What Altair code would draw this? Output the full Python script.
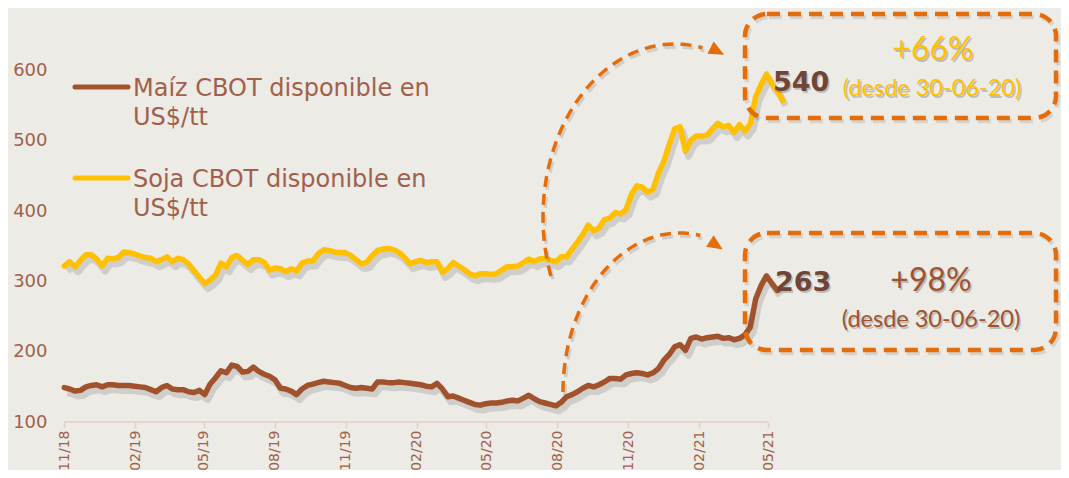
import altair as alt
import pandas as pd
import numpy as np

# ---------------- data (weekly from 2018-11-01) ----------------
START = "2018-11-01"
soja = [322, 328, 321, 330, 338, 338, 332, 322, 333, 332, 334, 342, 341, 339, 336, 334, 333, 328, 331, 335,
        328, 333, 331, 325, 315, 306, 297, 302, 309, 326, 321, 334, 337, 330, 324, 331, 331, 327, 316, 319,
        318, 314, 318, 315, 326, 329, 329, 339, 345, 344, 342, 341, 341, 337, 331, 325, 327, 337, 344, 346,
        347, 345, 341, 334, 325, 328, 330, 327, 328, 328, 313, 318, 327, 322, 317, 311, 308, 311, 311, 310,
        311, 316, 321, 321, 322, 327, 332, 328, 332, 333, 330, 328, 335, 335, 346, 356, 367, 380, 372, 376,
        388, 390, 398, 396, 402, 424, 436, 434, 427, 431, 454, 471, 495, 517, 520, 485, 501, 507, 507, 508,
        517, 525, 520, 522, 512, 523, 514, 524, 563, 580, 595, 581, 572, 557]
maiz = [149, 147, 144, 145, 150, 152, 153, 150, 153, 153, 152, 152, 152, 151, 150, 149, 146, 143, 149, 152,
        147, 146, 146, 143, 142, 145, 139, 154, 163, 173, 170, 181, 179, 171, 172, 178, 172, 168, 165, 160,
        148, 147, 144, 139, 147, 152, 154, 156, 158, 157, 156, 155, 152, 149, 148, 149, 148, 147, 157, 157,
        156, 156, 157, 156, 155, 154, 153, 151, 150, 155, 147, 136, 137, 134, 131, 128, 125, 124, 126, 127,
        127, 128, 130, 131, 130, 134, 138, 133, 129, 127, 125, 123, 128, 136, 139, 143, 148, 152, 150, 153,
        157, 162, 162, 161, 167, 169, 170, 169, 167, 170, 176, 188, 196, 207, 210, 202, 219, 221, 218, 220,
        221, 222, 219, 220, 217, 219, 224, 235, 275, 294, 308, 297, 287]
series_names = ["Maíz CBOT disponible en US$/tt", "Soja CBOT disponible en US$/tt"]
y_ticks = [100, 200, 300, 400, 500, 600]
x_ticks = ["2018-11-01", "2019-02-01", "2019-05-01", "2019-08-01", "2019-11-01", "2020-02-01",
           "2020-05-01", "2020-08-01", "2020-11-01", "2021-02-01", "2021-05-01"]
last_soja, last_maiz = "540", "263"
pct_soja, pct_maiz = "+66%", "+98%"
desde = "(desde 30-06-20)"

# ---------------- styling ----------------
BG = "#EDEBE6"
MAIZ = "#A0522D"
SOJA = "#FFC000"
ORANGE = "#E46C0A"
LABEL = "#A0604A"
DARK = "#6F4536"
AXIS = "#E6CCC6"
FONT = "DejaVu Sans"
OX, OY = 62, 8  # plot origin on the page
W, H = 723, 414
X0, X1 = pd.Timestamp("2018-10-29"), pd.Timestamp("2021-05-23")
Y0, Y1 = 100, 689
SPAN = (X1 - X0).days
DAYS_PER_PX = SPAN / W
UNITS_PER_PX = (Y1 - Y0) / H


def dt(t):
    t = pd.Timestamp(t)
    return alt.DateTime(year=t.year, month=t.month, date=t.day)


frames = []
for name, vals in zip(series_names, [maiz, soja]):
    frames.append(pd.DataFrame({"date": pd.date_range(START, periods=len(vals), freq="7D"),
                                "value": vals, "serie": name}))
df = pd.concat(frames, ignore_index=True)

# soft drop shadow: the same series shifted 3px right / 5px down
df_sh = df.copy()
df_sh["date"] = df_sh["date"] + pd.Timedelta(days=3 * DAYS_PER_PX)
df_sh["value"] = df_sh["value"] - 5 * UNITS_PER_PX

xscale = alt.Scale(domain=[dt(X0), dt(X1)])
yscale = alt.Scale(domain=[Y0, Y1], nice=False, zero=False)

x_axis = alt.Axis(values=[dt(s) for s in x_ticks], format="%m/%y", labelAngle=270,
                  domain=False, grid=False, tickColor=AXIS, tickSize=6, tickWidth=1.5,
                  labelColor=LABEL, labelFont=FONT, labelFontSize=14, labelPadding=2,
                  labelOverlap=False)
y_axis = alt.Axis(values=y_ticks, domain=False, grid=False, ticks=False,
                  labelColor=LABEL, labelFont=FONT, labelFontSize=18, labelPadding=15)

one = pd.DataFrame({"k": [0]})

shadow = alt.Chart(df_sh).mark_line(strokeWidth=7, color="#000000", opacity=0.12,
                                    strokeJoin="round").encode(
    x=alt.X("date:T", scale=xscale), y=alt.Y("value:Q", scale=yscale), detail="serie:N")

lines = alt.Chart(df).mark_line(strokeWidth=5.5, strokeJoin="round", strokeCap="round").encode(
    x=alt.X("date:T", scale=xscale, axis=x_axis, title=None),
    y=alt.Y("value:Q", scale=yscale, axis=y_axis, title=None),
    color=alt.Color("serie:N", scale=alt.Scale(domain=series_names, range=[MAIZ, SOJA]), legend=None))

axis_df = pd.DataFrame({"d1": [pd.Timestamp(x_ticks[0])], "d2": [pd.Timestamp(x_ticks[-1])], "v": [y_ticks[0]]})
axis_rule = alt.Chart(axis_df).mark_rule(color=AXIS, strokeWidth=1.5).encode(
    x=alt.X("d1:T", scale=xscale), x2="d2:T", y=alt.Y("v:Q", scale=yscale))

# ---------------- decorations ----------------
def arc_frame(dx, dy):
    rows = []
    for name, cx, cy, a, b, t0, t1 in [("a1", 675, 217, 132, 173, 200, 78),
                                       ("a2", 680, 392, 117, 159, 180, 80)]:
        for i, t in enumerate(np.radians(np.linspace(t0, t1, 60))):
            px = cx + a * np.cos(t) - OX + dx
            py = cy - b * np.sin(t) - OY + dy
            rows.append({"arc": name, "i": i,
                         "date": X0 + pd.Timedelta(days=px * DAYS_PER_PX),
                         "value": Y1 - py * UNITS_PER_PX})
    return pd.DataFrame(rows)


arc_shadow = alt.Chart(arc_frame(2, 3)).mark_line(strokeDash=[11, 7], strokeWidth=3.5, color="#000000",
                                                  opacity=0.12).encode(
    x=alt.X("date:T", scale=xscale), y=alt.Y("value:Q", scale=yscale), detail="arc:N", order="i:Q")
arc_lines = alt.Chart(arc_frame(0, 0)).mark_line(strokeDash=[11, 7], strokeWidth=3.5, color=ORANGE).encode(
    x=alt.X("date:T", scale=xscale), y=alt.Y("value:Q", scale=yscale), detail="arc:N", order="i:Q")


def arrow_path(deg):
    """triangle path (unit box) pointing along deg, clockwise from +x on screen"""
    th = np.radians(deg)
    pts = [(1.0, 0.0), (-0.9, -0.85), (-0.9, 0.85)]
    rot = [(x * np.cos(th) - y * np.sin(th), x * np.sin(th) + y * np.cos(th)) for x, y in pts]
    return "M" + "L".join(f"{x:.3f},{y:.3f}" for x, y in rot) + "Z"


heads = [alt.Chart(one).mark_point(shape=arrow_path(ang), filled=True, size=260,
                                   color=ORANGE, opacity=1).encode(x=alt.value(hx - OX), y=alt.value(hy - OY))
         for hx, hy, ang in [(717, 51, 27), (716, 245, 33)]]


def box(x1, y1, x2, y2):
    sh = alt.Chart(one).mark_rect(fill="transparent", stroke="#000000", strokeOpacity=0.10, strokeWidth=4.5,
                                  strokeDash=[13, 8], cornerRadius=22).encode(
        x=alt.value(x1 - OX + 2), x2=alt.value(x2 - OX + 2), y=alt.value(y1 - OY + 3), y2=alt.value(y2 - OY + 3))
    bx = alt.Chart(one).mark_rect(fill="transparent", stroke=ORANGE, strokeWidth=4.5,
                                  strokeDash=[13, 8], cornerRadius=22).encode(
        x=alt.value(x1 - OX), x2=alt.value(x2 - OX), y=alt.value(y1 - OY), y2=alt.value(y2 - OY))
    return [sh, bx]


def txt(s, x, y, size, color, font=FONT, weight="normal", align="left", shadow=False):
    out = []
    if shadow:
        out.append(alt.Chart(one).mark_text(text=s, font=font, fontSize=size, fontWeight=weight,
                                            align=align, baseline="alphabetic", color="#000000",
                                            opacity=0.2).encode(
            x=alt.value(x - OX + 1.5), y=alt.value(y - OY + 1.5)))
    out.append(alt.Chart(one).mark_text(text=s, font=font, fontSize=size, fontWeight=weight,
                                        align=align, baseline="alphabetic", color=color).encode(
        x=alt.value(x - OX), y=alt.value(y - OY)))
    return out


legend = []
for (ly, col, name) in [(87, MAIZ, series_names[0]), (178, SOJA, series_names[1])]:
    legend.append(alt.Chart(one).mark_rule(color=col, strokeWidth=5, strokeCap="round").encode(
        x=alt.value(75 - OX), x2=alt.value(128 - OX), y=alt.value(ly - OY)))
    first, second = name.rsplit(" ", 1)
    legend += txt(first, 133, ly + 9, 24, LABEL)
    legend += txt(second, 133, ly + 38, 24, LABEL)

annot = []
annot += box(745, 14, 1056, 118)
annot += box(745, 233, 1056, 350)
annot += txt(last_soja, 773, 91, 27, DARK, weight="bold", shadow=True)
annot += txt(last_maiz, 775, 291, 27, DARK, weight="bold", shadow=True)
annot += txt(pct_soja, 933, 60, 32, SOJA, font="Lato", align="center", shadow=True)
annot += txt(desde, 932, 96, 23.5, SOJA, font="Lato", align="center", shadow=True)
annot += txt(pct_maiz, 931, 291, 32, MAIZ, font="Lato", align="center", shadow=True)
annot += txt(desde, 931, 327, 23.5, MAIZ, font="Lato", align="center", shadow=True)

chart = alt.layer(
    axis_rule, shadow, lines, arc_shadow, arc_lines, *heads, *legend, *annot
).properties(
    width=W, height=H,
    autosize=alt.AutoSizeParams(type="none"),
    padding={"left": 54, "top": 0, "right": 276, "bottom": 48},
).configure(background=BG).configure_view(stroke=None)

chart.save("out.html", embed_options={"renderer": "svg", "actions": False})
